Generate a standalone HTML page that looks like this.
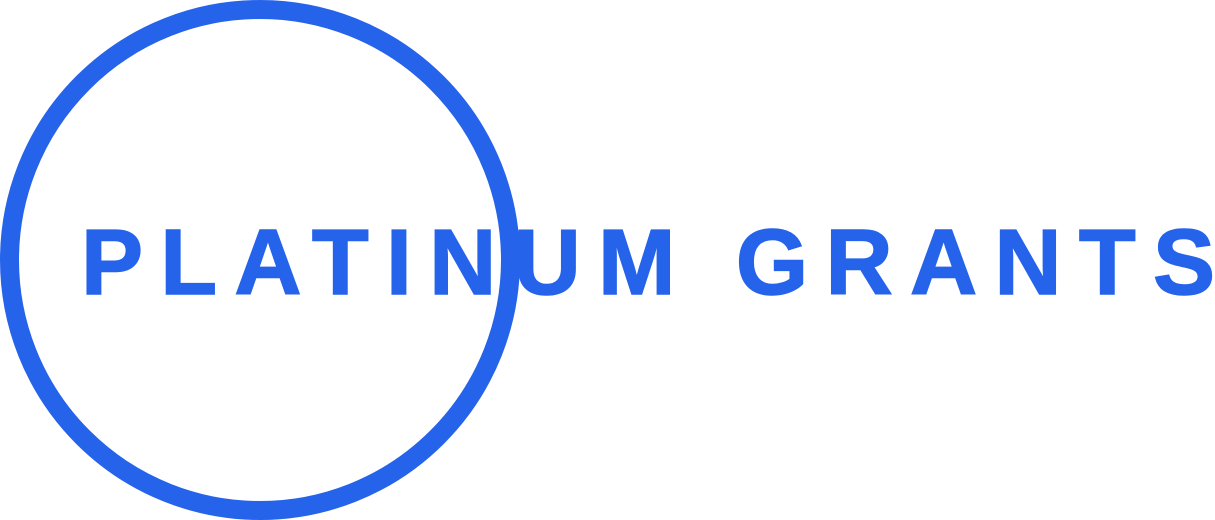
<!DOCTYPE html>
<html>
<head>
<meta charset="utf-8">
<style>
  html,body{margin:0;padding:0;background:#ffffff;}
  body{width:1215px;height:520px;overflow:hidden;}
  svg{display:block;}
</style>
</head>
<body>
<svg width="1215" height="520" viewBox="0 0 1215 520">
  <circle cx="260" cy="260" r="250.5" fill="none" stroke="#2563EB" stroke-width="19"/>
  <text x="81" y="294" font-family="Liberation Sans, Arial, sans-serif" font-weight="bold" font-size="93" fill="#2563EB" stroke="#2563EB" stroke-width="1.5" textLength="1134" lengthAdjust="spacing">PLATINUM GRANTS</text>
</svg>
</body>
</html>
